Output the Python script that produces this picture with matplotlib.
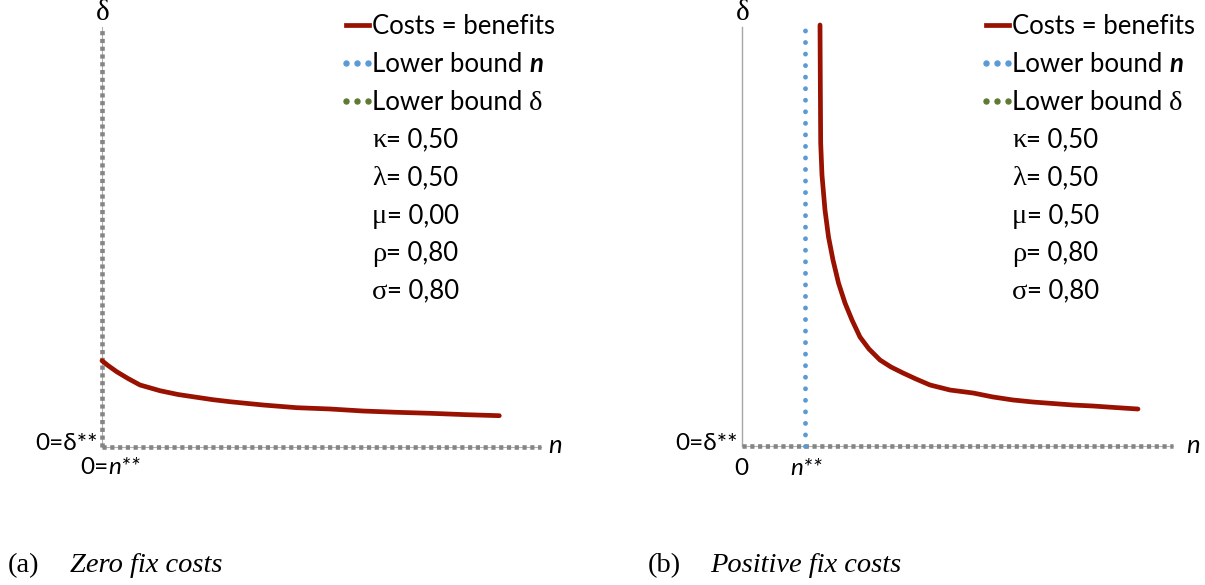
import matplotlib.pyplot as plt
import numpy as np
from matplotlib.lines import Line2D

plt.rcParams['font.family'] = ['Lato', 'DejaVu Sans']
# dash patterns below are given in points, independent of line width
plt.rcParams['lines.scale_dashes'] = False

W, H = 1205, 585

# Costs = benefits, zero fix costs
n_zero = [0.0, 0.14, 0.342, 0.605, 0.884, 1.349, 1.767, 2.202, 2.581, 2.977, 3.744,
          4.528, 5.302, 6.07, 6.853, 7.628, 8.481, 9.24]
d_zero = [2.007, 1.895, 1.751, 1.593, 1.442, 1.309, 1.221, 1.156, 1.1, 1.053, 0.977,
          0.914, 0.884, 0.837, 0.807, 0.784, 0.751, 0.728]

# Costs = benefits, positive fix costs
n_pos = [1.814, 1.821, 1.83, 1.86, 1.93, 2.012, 2.116, 2.244, 2.395, 2.558, 2.744,
         2.953, 3.209, 3.465, 3.744, 4.047, 4.372, 4.837, 5.372, 5.837, 6.302, 6.767,
         7.233, 7.698, 8.163, 8.674, 9.209]
d_pos = [9.791, 8.512, 7.047, 6.302, 5.488, 4.86, 4.326, 3.791, 3.326, 2.93, 2.535,
         2.256, 2.0, 1.837, 1.698, 1.558, 1.419, 1.302, 1.233, 1.14, 1.07, 1.023,
         0.988, 0.953, 0.93, 0.895, 0.86]

n_lower = 1.47   # lower bound n (positive fix costs)

param_names = ['κ', 'λ', 'μ', 'ρ', 'σ']
params_zero = ['0,50', '0,50', '0,00', '0,80', '0,80']
params_pos = ['0,50', '0,50', '0,50', '0,80', '0,80']

captions = [('(a)', 'Zero fix costs'), ('(b)', 'Positive fix costs')]

red = '#991100'
blue = '#5b9bd5'
green = '#5f7a30'
grey = '#858585'
serif = 'Liberation Serif'

fig = plt.figure(figsize=(W / 100, H / 100), dpi=100)
renderer = fig.canvas.get_renderer()
fs = 18.5
fs_ax = 17.5


def fx(px):
    return px / W


def fy(py):
    return (H - py) / H


def chain(x, y, parts, **common):
    # write text pieces one after another on the same baseline
    for s, kw in parts:
        opts = dict(fontsize=fs, va='baseline')
        opts.update(common)
        opts.update(kw)
        t = fig.text(fx(x), fy(y), s, **opts)
        x = t.get_window_extent(renderer).x1


def make_axes(x0, y0, w, h):
    ax = fig.add_axes([fx(x0), fy(y0), w / W, h / H])
    ax.set_xlim(0, w / 43.0)
    ax.set_ylim(0, h / 43.0)
    ax.axis('off')
    return ax


def dashed_axis(ax, xs, ys):
    ax.plot(xs, ys, color='#b0b0b0', lw=0.8, zorder=1, clip_on=False)
    ax.plot(xs, ys, color=grey, lw=3.3, linestyle=(0, (3.0, 2.6)),
            dash_capstyle='butt', zorder=2, clip_on=False)


axl = make_axes(102, 447, 439, 420)
axr = make_axes(742, 446, 431, 419)

# left panel: both axes dashed
dashed_axis(axl, [0, axl.get_xlim()[1]], [0, 0])
dashed_axis(axl, [0, 0], [0, axl.get_ylim()[1]])
axl.plot(n_zero, d_zero, color=red, lw=3.4, solid_capstyle='round',
         solid_joinstyle='round', zorder=3, clip_on=False)

# right panel: solid y axis, dashed x axis
axr.plot([0, 0], [0, axr.get_ylim()[1]], color='#a6a6a6', lw=1.0, zorder=1, clip_on=False)
dashed_axis(axr, [0, axr.get_xlim()[1]], [0, 0])
axr.plot([n_lower, n_lower], [0, 9.73], color=blue, lw=3.5,
         linestyle=(0, (0.01, 8.3)), dash_capstyle='round', zorder=3, clip_on=False)
axr.plot(n_pos, d_pos, color=red, lw=3.4, solid_capstyle='round',
         solid_joinstyle='round', zorder=3, clip_on=False)


def legend_block(x0, values):
    rows = [25 + 37.8 * i for i in range(8)]
    fig.add_artist(Line2D([fx(x0 - 26), fx(x0 - 3)], [fy(rows[0])] * 2, color=red, lw=3.4,
                          transform=fig.transFigure))
    for r, c in zip(rows[1:3], [blue, green]):
        fig.add_artist(Line2D([fx(x0 - 26), fx(x0 - 15), fx(x0 - 4)], [fy(r)] * 3,
                              linestyle='none', marker='o', markersize=3.6,
                              color=c, transform=fig.transFigure))
    base = [r + 9 for r in rows]
    chain(x0, base[0], [('Costs = benefits', {})])
    chain(x0, base[1], [('Lower bound ', {}), ('n', dict(style='italic', weight='bold'))])
    chain(x0, base[2], [('Lower bound ', {}), ('δ', dict(family=serif, fontsize=fs + 2))])
    for b, name, val in zip(base[3:], param_names, values):
        chain(x0, b, [(name, dict(family=serif, fontsize=fs + 2)), ('= ' + val, {})])


legend_block(372, params_zero)
legend_block(1012, params_pos)

# axis labels
for x0 in [102, 742]:
    fig.text(fx(x0 + 1), fy(20), 'δ', fontsize=21, ha='center', va='baseline', family=serif)
fig.text(fx(548), fy(453), 'n', fontsize=fs, style='italic', va='baseline')
fig.text(fx(1186), fy(453), 'n', fontsize=fs, style='italic', va='baseline')
fig.text(fx(98), fy(450), '0=δ**', fontsize=fs_ax, ha='right', va='baseline')
fig.text(fx(738), fy(450), '0=δ**', fontsize=fs_ax, ha='right', va='baseline')
chain(80, 474, [('0=', {}), ('n**', dict(style='italic'))], fontsize=fs_ax)
fig.text(fx(741), fy(475), '0', fontsize=fs_ax, ha='center', va='baseline')
fig.text(fx(806), fy(475), 'n**', fontsize=fs_ax, style='italic', ha='center', va='baseline')

# captions
for (tag, title), x0 in zip(captions, [8, 648]):
    fig.text(fx(x0), fy(572), tag, fontsize=20.5, family=serif, va='baseline')
    fig.text(fx(x0 + 62), fy(572), title, fontsize=20.5, family=serif,
             style='italic', va='baseline')

fig.savefig('out.png', dpi=100)
